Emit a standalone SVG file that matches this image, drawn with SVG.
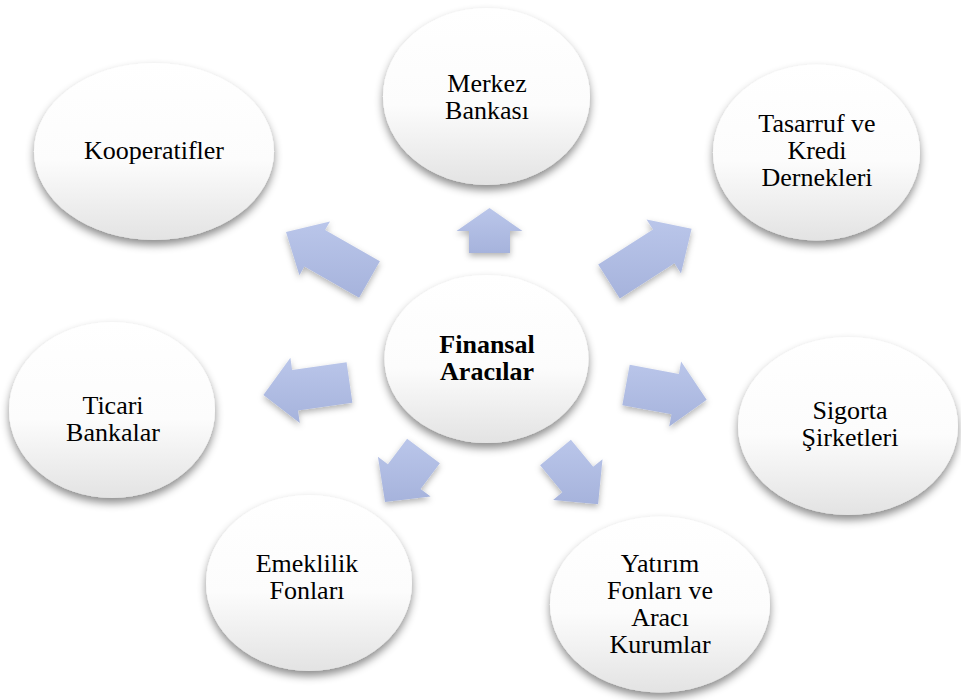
<svg xmlns="http://www.w3.org/2000/svg" width="961" height="700" viewBox="0 0 961 700">
  <defs>
    <linearGradient id="bubble" x1="0" y1="0" x2="0" y2="1">
      <stop offset="0" stop-color="#ffffff"/>
      <stop offset="0.55" stop-color="#fcfcfc"/>
      <stop offset="1" stop-color="#e3e3e3"/>
    </linearGradient>
    <linearGradient id="arrowFill" x1="0" y1="0" x2="0" y2="1">
      <stop offset="0" stop-color="#bac6ea"/>
      <stop offset="1" stop-color="#a6b3dc"/>
    </linearGradient>
    <filter id="shadow" x="-20%" y="-20%" width="140%" height="150%">
      <feDropShadow dx="0" dy="5" stdDeviation="4" flood-color="#000" flood-opacity="0.45"/>
    </filter>
    <filter id="arrowShadow" x="-30%" y="-30%" width="160%" height="170%">
      <feDropShadow dx="0" dy="3" stdDeviation="3" flood-color="#000" flood-opacity="0.3"/>
    </filter>
  </defs>
  <style>
    .node ellipse { fill: url(#bubble); filter: url(#shadow); }
    .node text { font-family: "Liberation Serif", "Times New Roman", serif; font-size: 26px; fill: #000; text-anchor: middle; }
    .hub text { font-weight: bold; }
    .links polygon { fill: url(#arrowFill); filter: url(#arrowShadow); }
  </style>
  <rect width="961" height="700" fill="#ffffff"/>

  <!-- block arrows radiating from the hub -->
  <g id="connectors" class="links">
    <polygon points="510,253 510,231 522.5,231 489.5,208 456.5,231 469,231 469,253"/>
    <polygon points="619.8,298.4 674.5,263.3 681,273.4 691.6,228.7 646.5,219.5 653,229.6 598.2,264.6"/>
    <polygon points="379.9,261.2 325.1,230.1 330,221.4 286,232.1 299.4,275.3 304.4,266.6 359.1,297.8"/>
    <polygon points="346.6,362.2 292.1,370 290.4,357.7 263.4,394.9 299.8,423 298,410.6 352.4,402.8"/>
    <polygon points="622.3,405.2 671.5,414.2 669.2,426.5 706.7,399.8 681.1,361.6 678.9,373.9 629.7,364.8"/>
    <polygon points="407.1,438.7 387.9,464.2 377.9,456.7 385,502.1 430.6,496.4 420.6,488.9 439.9,463.3"/>
    <polygon points="540.1,465.2 562.3,492.2 553.1,499.9 598.1,504.2 602.5,459.2 593.2,466.8 570.9,439.8"/>
  </g>

  <g id="node-hub" class="node hub">
    <ellipse cx="486.5" cy="359" rx="102" ry="84"/>
    <text x="487" y="353">Finansal</text>
    <text x="487" y="380">Aracılar</text>
  </g>

  <g id="node-merkez" class="node">
    <ellipse cx="486.5" cy="96.5" rx="103.5" ry="88.5"/>
    <text x="487" y="92">Merkez</text>
    <text x="487" y="119">Bankası</text>
  </g>

  <g id="node-tasarruf" class="node">
    <ellipse cx="816.5" cy="152.5" rx="103.5" ry="88"/>
    <text x="817" y="132">Tasarruf ve</text>
    <text x="817" y="159">Kredi</text>
    <text x="817" y="186">Dernekleri</text>
  </g>

  <g id="node-sigorta" class="node">
    <ellipse cx="848" cy="426" rx="110" ry="89"/>
    <text x="850" y="419">Sigorta</text>
    <text x="850" y="446">Şirketleri</text>
  </g>

  <g id="node-yatirim" class="node">
    <ellipse cx="660" cy="604.5" rx="110" ry="88"/>
    <text x="660" y="572">Yatırım</text>
    <text x="660" y="599">Fonları ve</text>
    <text x="660" y="626">Aracı</text>
    <text x="660" y="653">Kurumlar</text>
  </g>

  <g id="node-emeklilik" class="node">
    <ellipse cx="309" cy="583" rx="103" ry="88"/>
    <text x="307" y="572">Emeklilik</text>
    <text x="307" y="599">Fonları</text>
  </g>

  <g id="node-ticari" class="node">
    <ellipse cx="112" cy="410" rx="103" ry="88"/>
    <text x="113" y="414">Ticari</text>
    <text x="113" y="441">Bankalar</text>
  </g>

  <g id="node-kooperatifler" class="node">
    <ellipse cx="154" cy="151.5" rx="120" ry="88.5"/>
    <text x="154" y="159">Kooperatifler</text>
  </g>
</svg>
